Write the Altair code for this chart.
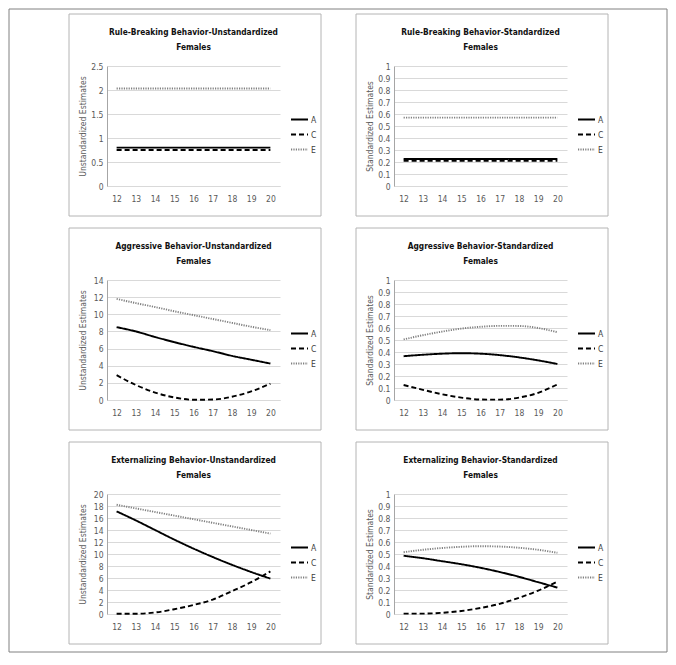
import altair as alt
import pandas as pd

FONT = "DejaVu Sans Condensed, Liberation Sans, sans-serif"

ages = [12, 13, 14, 15, 16, 17, 18, 19, 20]
components = ["A", "C", "E"]

# Rule-Breaking Behavior - Unstandardized
rb_u_A = [0.80, 0.80, 0.80, 0.80, 0.80, 0.80, 0.80, 0.80, 0.80]
rb_u_C = [0.75, 0.75, 0.75, 0.75, 0.75, 0.75, 0.75, 0.75, 0.75]
rb_u_E = [2.03, 2.03, 2.03, 2.03, 2.03, 2.03, 2.03, 2.03, 2.03]
# Rule-Breaking Behavior - Standardized
rb_s_A = [0.225, 0.225, 0.225, 0.225, 0.225, 0.225, 0.225, 0.225, 0.225]
rb_s_C = [0.21, 0.21, 0.21, 0.21, 0.21, 0.21, 0.21, 0.21, 0.21]
rb_s_E = [0.57, 0.57, 0.57, 0.57, 0.57, 0.57, 0.57, 0.57, 0.57]
# Aggressive Behavior - Unstandardized
ag_u_A = [8.5, 8.0, 7.35, 6.75, 6.2, 5.7, 5.15, 4.7, 4.25]
ag_u_C = [2.9, 1.75, 0.87, 0.3, 0.03, 0.05, 0.38, 1.0, 1.9]
ag_u_E = [11.8, 11.3, 10.85, 10.35, 9.9, 9.45, 9.0, 8.55, 8.15]
# Aggressive Behavior - Standardized
ag_s_A = [0.365, 0.377, 0.386, 0.39, 0.386, 0.374, 0.355, 0.33, 0.30]
ag_s_C = [0.125, 0.085, 0.048, 0.02, 0.004, 0.003, 0.02, 0.06, 0.13]
ag_s_E = [0.505, 0.54, 0.57, 0.595, 0.61, 0.618, 0.617, 0.60, 0.565]
# Externalizing Behavior - Unstandardized
ex_u_A = [17.1, 15.6, 14.0, 12.4, 10.9, 9.5, 8.2, 7.0, 5.9]
ex_u_C = [0.05, 0.05, 0.25, 0.8, 1.5, 2.4, 3.8, 5.3, 7.1]
ex_u_E = [18.2, 17.6, 17.0, 16.4, 15.8, 15.2, 14.6, 14.0, 13.4]
# Externalizing Behavior - Standardized
ex_s_A = [0.485, 0.465, 0.44, 0.415, 0.385, 0.35, 0.31, 0.265, 0.22]
ex_s_C = [0.003, 0.003, 0.01, 0.025, 0.05, 0.085, 0.135, 0.195, 0.27]
ex_s_E = [0.515, 0.535, 0.55, 0.56, 0.565, 0.562, 0.552, 0.535, 0.51]

ticks_25 = [0, 0.5, 1, 1.5, 2, 2.5]
ticks_1 = [0, 0.1, 0.2, 0.3, 0.4, 0.5, 0.6, 0.7, 0.8, 0.9, 1]
ticks_14 = [0, 2, 4, 6, 8, 10, 12, 14]
ticks_20 = [0, 2, 4, 6, 8, 10, 12, 14, 16, 18, 20]

W, H = 173, 120
GRID = "#d9d9d9"
TXT = "#595959"


def panel(title, ytitle, ticks, A, C, E, frame=False):
    rows = []
    for comp, vals in zip(components, [A, C, E]):
        for a, v in zip(ages, vals):
            rows.append({"age": a, "comp": comp, "val": v})
    df = pd.DataFrame(rows)
    one = pd.DataFrame({"k": [0]})

    leg = alt.Legend(
        title=None, orient="none", legendX=183, legendY=44,
        symbolType="stroke", symbolSize=289, symbolStrokeWidth=2,
        labelFont=FONT, labelFontSize=8.5, labelColor="#404040",
        labelOffset=2, rowPadding=1,
    )
    lines = alt.Chart(df).mark_line(interpolate="monotone").encode(
        x=alt.X("age:O", title=None,
                scale=alt.Scale(type="point", padding=0.5),
                axis=alt.Axis(labelAngle=0, ticks=False, domain=True,
                              domainColor=GRID, grid=False, labelPadding=8,
                              labelFont=FONT, labelFontSize=8.5, labelColor=TXT)),
        y=alt.Y("val:Q", title=ytitle,
                scale=alt.Scale(domain=[ticks[0], ticks[-1]], nice=False, zero=True),
                axis=alt.Axis(values=ticks, format="~g", ticks=False, domain=True,
                              domainColor="#a6a6a6", grid=True, gridColor=GRID,
                              labelPadding=4, labelFont=FONT, labelFontSize=8.5,
                              labelColor=TXT, titleFont=FONT, titleFontSize=8.5,
                              titleFontWeight="normal", titleColor=TXT,
                              minExtent=16, maxExtent=16, titlePadding=4)),
        color=alt.Color("comp:N", scale=alt.Scale(domain=components,
                        range=["#000000", "#000000", "#808080"]), legend=leg),
        strokeDash=alt.StrokeDash("comp:N", scale=alt.Scale(domain=components,
                        range=[[1, 0], [5, 3], [1.2, 1.2]]), legend=leg),
        strokeWidth=alt.StrokeWidth("comp:N", scale=alt.Scale(domain=components,
                        range=[1.9, 1.9, 1.2]), legend=None),
    )
    box = alt.Chart(one).mark_rect(fillOpacity=0, stroke="#b4b4b4", strokeWidth=1).encode(
        x=alt.value(-38), x2=alt.value(214), y=alt.value(-52), y2=alt.value(150))
    layers = [box, lines]
    off = -37.5
    if frame:
        outer = alt.Chart(one).mark_rect(fillOpacity=0, stroke="#808080", strokeWidth=1).encode(
            x=alt.value(-98), x2=alt.value(560), y=alt.value(-57), y2=alt.value(586))
        layers = [outer] + layers
        off = -42.5
    return alt.layer(*layers).properties(
        width=W, height=H,
        title=alt.TitleParams(text=[title, "Females"], anchor="middle", frame="group",
                              font=FONT, fontSize=8.3, fontWeight="bold", color="#111111",
                              lineHeight=15, offset=off),
    )


U = "Unstandardized Estimates"
S = "Standardized Estimates"
panels = [
    panel("Rule-Breaking Behavior-Unstandardized", U, ticks_25, rb_u_A, rb_u_C, rb_u_E, frame=True),
    panel("Rule-Breaking Behavior-Standardized", S, ticks_1, rb_s_A, rb_s_C, rb_s_E),
    panel("Aggressive Behavior-Unstandardized", U, ticks_14, ag_u_A, ag_u_C, ag_u_E),
    panel("Aggressive Behavior-Standardized", S, ticks_1, ag_s_A, ag_s_C, ag_s_E),
    panel("Externalizing Behavior-Unstandardized", U, ticks_20, ex_u_A, ex_u_C, ex_u_E),
    panel("Externalizing Behavior-Standardized", S, ticks_1, ex_s_A, ex_s_C, ex_s_E),
]

chart = alt.concat(*panels, columns=2, spacing={"row": 94, "column": 114}, bounds="flush").resolve_scale(
    y="independent", color="independent", strokeDash="independent", strokeWidth="independent"
).resolve_legend(
    color="independent", strokeDash="independent"
).configure_view(strokeWidth=0).properties(padding=0, background="white")

chart.save("out.html", embed_options={"renderer": "svg", "actions": False})
